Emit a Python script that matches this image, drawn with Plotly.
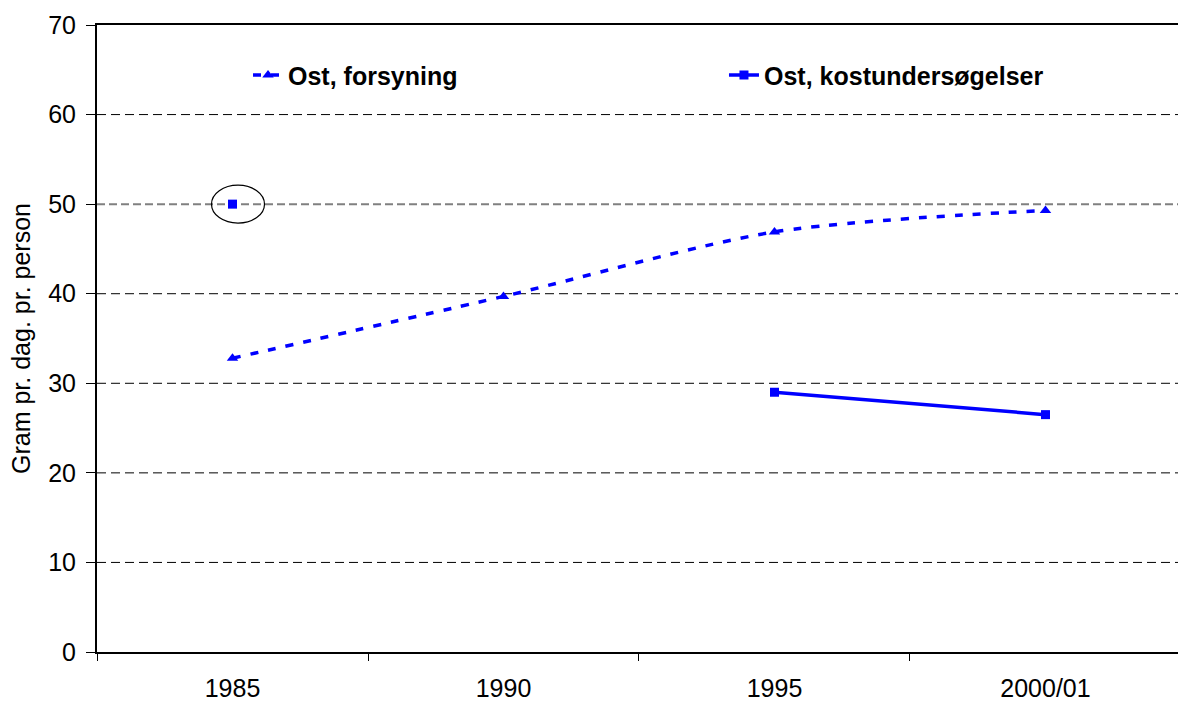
import plotly.graph_objects as go

# data
years = ["1985", "1990", "1995", "2000/01"]
forsyning = [32.8, 39.7, 46.9, 49.3]
kostundersog = [50.0, None, 29.0, 26.5]
y_ticks = [0, 10, 20, 30, 40, 50, 60, 70]
grid_black = [10, 20, 30, 40, 60]
grid_grey = [50]

BLUE = "#0000FF"
FONT = "Arial, Liberation Sans, sans-serif"

fig = go.Figure()

fig.add_trace(go.Scatter(
    x=years, y=forsyning, name="Ost, forsyning", legend="legend",
    mode="lines+markers",
    line=dict(color=BLUE, width=3.5, dash="8px,10px", shape="spline", smoothing=0.8),
    marker=dict(symbol="triangle-up", size=10, color=BLUE),
))
fig.add_trace(go.Scatter(
    x=years, y=kostundersog, name="Ost, kostundersøgelser", legend="legend2",
    mode="lines+markers", connectgaps=False,
    line=dict(color=BLUE, width=3.5),
    marker=dict(symbol="square", size=9, color=BLUE),
))

# dashed gridlines
for g in grid_black:
    fig.add_shape(type="line", xref="paper", yref="y", x0=0, x1=1, y0=g, y1=g,
                  line=dict(color="black", width=1, dash="9px,5px"), layer="below")
for g in grid_grey:
    fig.add_shape(type="line", xref="paper", yref="y", x0=0, x1=1, y0=g, y1=g,
                  line=dict(color="#808080", width=2, dash="8px,4px"), layer="below")

# ellipse around the 1985 point
fig.add_shape(type="circle", xref="x", yref="y",
              xsizemode="pixel", ysizemode="pixel",
              xanchor=0, yanchor=kostundersog[0],
              x0=-21, x1=32, y0=-19, y1=19,
              line=dict(color="black", width=1.2))

legend_style = dict(
    orientation="h", yanchor="middle", xanchor="left", y=0.92,
    font=dict(family=FONT, size=25, color="black", weight="bold"),
    bgcolor="rgba(0,0,0,0)",
)

fig.update_layout(
    width=1178, height=702,
    margin=dict(l=97, r=0, t=25, b=50, autoexpand=False),
    paper_bgcolor="white", plot_bgcolor="white",
    font=dict(family=FONT, size=25, color="black"),
    showlegend=True,
    legend=dict(x=0.1397, **legend_style),
    legend2=dict(x=0.580, **legend_style),
)

fig.update_xaxes(
    type="category", range=[-0.5, 3.489], automargin=False,
    showline=True, linecolor="black", linewidth=1.5, mirror=True,
    ticks="outside", tickson="boundaries", ticklen=7, tickcolor="black",
    showgrid=False, ticklabelstandoff=13,
    tickfont=dict(size=25),
)
fig.update_yaxes(
    range=[0, 70], tickvals=y_ticks, automargin=False,
    showline=True, linecolor="black", linewidth=2,
    ticks="outside", ticklen=9, tickcolor="black",
    showgrid=False, zeroline=False, ticklabelstandoff=5,
    tickfont=dict(size=25),
    title=dict(text="Gram pr. dag. pr. person", font=dict(size=25), standoff=10),
)

# drop the default 8px page margin so the figure fills the window exactly
fig.write_html(
    "out.html",
    config={"displayModeBar": False},
    post_script="document.body.style.margin='0px';document.body.style.overflow='hidden';",
)
